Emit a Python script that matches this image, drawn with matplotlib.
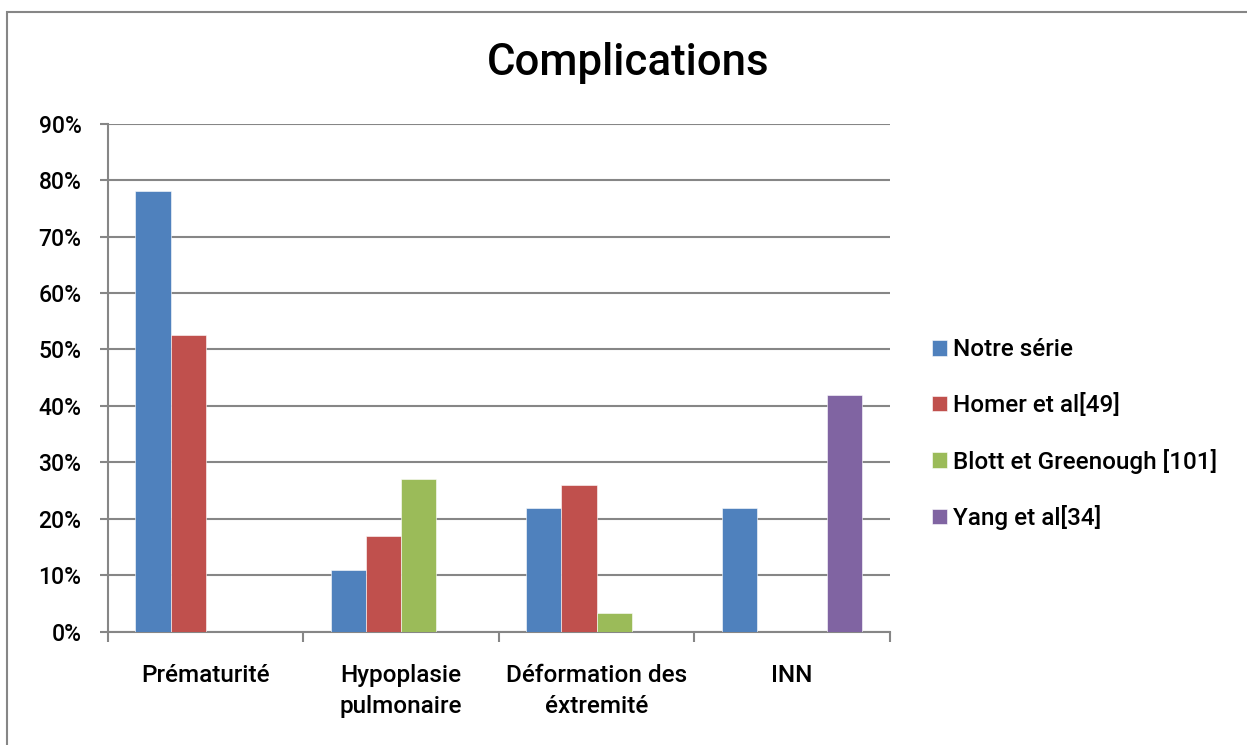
import numpy as np
import matplotlib.pyplot as plt
from matplotlib.patches import Rectangle

plt.rcParams['font.family'] = ['Roboto', 'DejaVu Sans']
plt.rcParams['font.weight'] = 'medium'

# data (percent)
categories = ["Prématurité", "Hypoplasie\npulmonaire", "Déformation des\néxtremité", "INN"]
series = ["Notre série", "Homer et al[49]", "Blott et Greenough [101]", "Yang et al[34]"]
notre = [78, 11, 22, 22]
homer = [52.5, 17, 26, 0]
blott = [0, 27, 3.3, 0]
yang = [0, 0, 0, 42]
colors = ["#4F81BD", "#C0504D", "#9BBB59", "#8064A2"]

fig = plt.figure(figsize=(12.47, 7.45), dpi=100)
ax = fig.add_axes([0.0866, 0.152, 0.627, 0.682])

x = np.arange(len(categories))
w = 0.18
for i, (vals, lab, c) in enumerate(zip([notre, homer, blott, yang], series, colors)):
    ax.bar(x + (i - 1.5) * w, vals, w, color=c, label=lab, zorder=3,
           edgecolor="white", linewidth=0.4)

grey = "#868686"
ax.set_xlim(-0.5, len(categories) - 0.5)
ax.set_ylim(0, 90)
ax.set_yticks(np.arange(0, 91, 10))
ax.set_yticklabels([f"{v}%" for v in range(0, 91, 10)])
ax.yaxis.grid(True, color=grey, linewidth=1.5, zorder=0)
ax.set_xticks(x)
ax.set_xticklabels(categories, linespacing=1.45)
ax.set_xticks(np.arange(-0.5, len(categories)), minor=True)
ax.tick_params(axis="x", which="major", length=0, pad=23, labelsize=17.5)
ax.tick_params(axis="x", which="minor", length=7, color=grey, width=1.5)
ax.tick_params(axis="y", length=6, color=grey, width=1.5, labelsize=16.5, pad=13)
for s in ["top", "right"]:
    ax.spines[s].set_visible(False)
for s in ["left", "bottom"]:
    ax.spines[s].set_color(grey)
    ax.spines[s].set_linewidth(1.5)

fig.text(0.504, 0.915, "Complications", ha="center", va="center", fontsize=31.5)

fig.legend(loc="center left", bbox_to_anchor=(0.7474, 0.417), frameon=False,
           fontsize=17.5, handlelength=0.6, handleheight=0.6, handletextpad=0.25,
           labelspacing=1.3, borderpad=0, borderaxespad=0)

fig.patches.append(Rectangle((0.0056, -0.1), 1.2, 1.084, transform=fig.transFigure,
                             fill=False, edgecolor=grey, linewidth=1.5))

fig.savefig("out.png", dpi=100)
